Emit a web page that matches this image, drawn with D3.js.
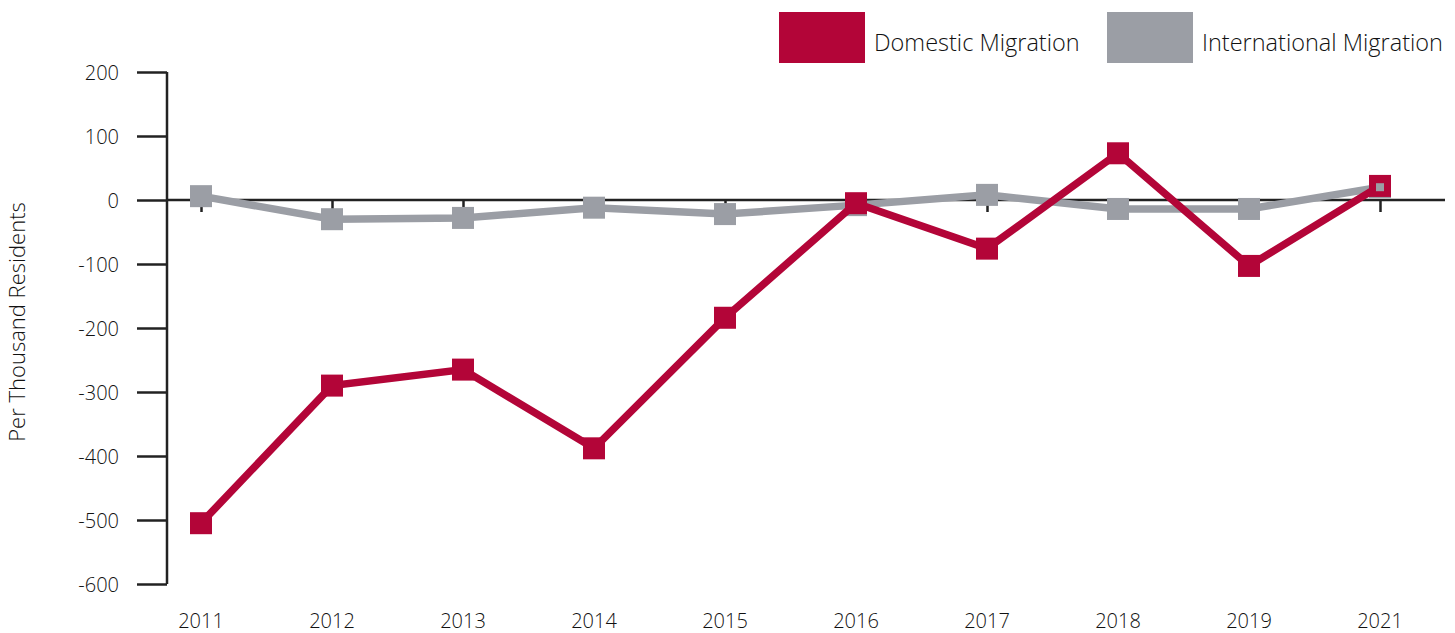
<!DOCTYPE html>
<html><head><meta charset="utf-8">
<script src="https://cdn.jsdelivr.net/npm/d3@7"></script>
<style>body{margin:0;background:#fff}svg{display:block}text{font-family:"Open Sans",sans-serif;font-weight:300;fill:#111}</style>
</head><body><svg id="c" width="1455" height="633"></svg>
<script>
const years = ["2011","2012","2013","2014","2015","2016","2017","2018","2019","2021"];
const domestic = [-505,-290,-265,-388,-184,-5,-76,73,-103,22];
const international = [6,-30,-28,-12,-22,-8,8,-14,-14,20];
const yTicks = [200,100,0,-100,-200,-300,-400,-500,-600];
const seriesNames = ["Domestic Migration","International Migration"];
const colors = ["#b30538","#9b9ea5"];

const svg = d3.select("#c");
const x = d3.scalePoint().domain(years).range([201,1380]);
const y = d3.scaleLinear().domain([-600,200]).range([584,72]);

// y axis
const ya = svg.append("g").attr("transform","translate(167,0)")
  .call(d3.axisLeft(y).tickValues(yTicks).tickSize(30).tickFormat(d=>String(d)));
ya.select(".domain").attr("stroke","#222").attr("stroke-width",2.5).attr("d",`M0,${y(200)}V${y(-600)}`);
ya.selectAll(".tick line").attr("stroke","#222").attr("stroke-width",2.5).attr("x1",0).attr("x2",-30);
ya.selectAll(".tick text").style("font-size","20px").attr("x",-48).attr("dy","0.35em");

// zero line with year ticks
const xa = svg.append("g").attr("transform",`translate(0,${y(0)})`)
  .call(d3.axisBottom(x).tickSize(12).tickFormat(""));
xa.select(".domain").attr("stroke","#222").attr("stroke-width",2.5).attr("d","M167,0H1445");
xa.selectAll(".tick line").attr("stroke","#222").attr("stroke-width",2.5);

// year labels
svg.append("g").selectAll("text").data(years).join("text")
  .attr("x",d=>x(d)).attr("y",628).attr("text-anchor","middle").style("font-size","20px").text(d=>d);

// y label
svg.append("text").attr("transform","translate(25,322) rotate(-90)").attr("text-anchor","middle")
  .style("font-size","22px").text("Per Thousand Residents");

const line = d3.line().x((d,i)=>x(years[i])).y(d=>y(d));
const ms = 22;
function drawSeries(data,color){
  svg.append("path").datum(data).attr("d",line).attr("fill","none").attr("stroke",color).attr("stroke-width",7.5);
  svg.append("g").selectAll("rect").data(data).join("rect")
    .attr("x",(d,i)=>x(years[i])-ms/2).attr("y",d=>y(d)-ms/2).attr("width",ms).attr("height",ms).attr("fill",color);
}
drawSeries(international,colors[1]);
drawSeries(domestic,colors[0]);
// gray end visible inside the last red marker
const li = international.length-1;
svg.append("rect").attr("x",x(years[li])-4).attr("y",y(international[li])-4).attr("width",8).attr("height",8).attr("fill",colors[1]);

// legend
const lg = svg.append("g");
const lx = [779,1107];
seriesNames.forEach((n,i)=>{
  lg.append("rect").attr("x",lx[i]).attr("y",12).attr("width",86).attr("height",51).attr("fill",colors[i]);
  lg.append("text").attr("x",lx[i]+95).attr("y",51).style("font-size","23.5px").text(n);
});
</script></body></html>
